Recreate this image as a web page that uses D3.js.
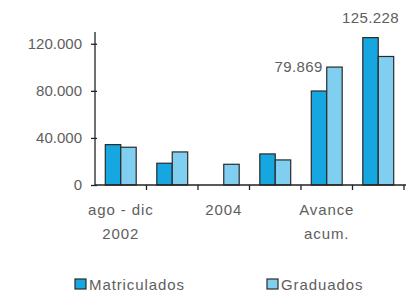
<!DOCTYPE html>
<html>
<head>
<meta charset="utf-8">
<script src="https://cdn.jsdelivr.net/npm/d3@7"></script>
<style>
  body { margin: 0; background: #fff; }
  text { font-family: "Liberation Sans", Arial, sans-serif; fill: #5e5e5e; }
</style>
</head>
<body>
<div id="chart"></div>
<script>
// Data
const categories = ["ago - dic 2002", "2003", "2004", "2005", "Avance acum.", "Total"];
const shownTicks = ["ago - dic 2002", "2004", "Avance acum."];
const matriculados = [34300, 18500, 0, 26400, 79869, 125228];
const graduados = [32100, 28100, 17600, 21300, 100200, 109200];
const series = ["Matriculados", "Graduados"];
const labelled = [4, 5]; // índices con etiqueta de valor
const yTicks = [0, 40000, 80000, 120000];

const colors = { Matriculados: "#16a7e0", Graduados: "#80cff1" };

// Dimensions
let dimensions = { width: 406, height: 293 };
const x0 = 95, x1 = 404, yBase = 185;

const locale = d3.formatLocale({ decimal: ",", thousands: ".", grouping: [3], currency: ["$", ""] });
const fmt = locale.format(",.0f");

const svg = d3.select("#chart").append("svg")
  .attr("width", dimensions.width)
  .attr("height", dimensions.height);

// Scales
const xScale = d3.scaleBand().domain(categories).range([x0, x1]).paddingInner(0.4).paddingOuter(0.2);
const xSub = d3.scaleBand().domain(series).range([0, xScale.bandwidth()]);
const yScale = d3.scaleLinear().domain([0, 130000]).range([yBase, 32]);

// Bars
const rows = categories.map((c, i) => ({ cat: c, i, Matriculados: matriculados[i], Graduados: graduados[i] }));
const groups = svg.append("g").selectAll("g").data(rows).join("g")
  .attr("transform", d => `translate(${xScale(d.cat)},0)`);

groups.selectAll("rect")
  .data(d => series.map(s => ({ s, v: d[s] })).filter(e => e.v > 0))
  .join("rect")
  .attr("x", e => xSub(e.s))
  .attr("y", e => yScale(e.v))
  .attr("width", xSub.bandwidth())
  .attr("height", e => yBase - yScale(e.v))
  .attr("fill", e => colors[e.s])
  .attr("stroke", "#2a2a2a")
  .attr("stroke-width", 1.2);

// Y axis
const leftAxis = d3.axisLeft(yScale).tickValues(yTicks).tickSize(4).tickPadding(9)
  .tickFormat(d => fmt(d));
const yAxisGroup = svg.append("g").attr("transform", `translate(${x0},0)`).call(leftAxis);
yAxisGroup.select(".domain").attr("d", `M0,${yScale(130000)}V${yBase}`).attr("stroke", "#222").attr("stroke-width", 1.3);
yAxisGroup.selectAll(".tick line").attr("x1", -4).attr("x2", 2).attr("stroke", "#222").attr("stroke-width", 1.3);
yAxisGroup.selectAll(".tick text").style("font-size", "15px").attr("fill", "#5e5e5e");

// X axis
const step = xScale.step();
const bounds = categories.map(c => xScale(c) - (step - xScale.bandwidth()) / 2).concat([x1]);
svg.append("line").attr("x1", x0).attr("x2", x1 + 2).attr("y1", yBase).attr("y2", yBase)
  .attr("stroke", "#222").attr("stroke-width", 1.3);
svg.append("g").selectAll("line").data(bounds.slice(1)).join("line")
  .attr("x1", d => d).attr("x2", d => d).attr("y1", yBase).attr("y2", yBase + 5)
  .attr("stroke", "#222").attr("stroke-width", 1.3);

const xLabels = svg.append("g").selectAll("text").data(shownTicks).join("text")
  .attr("x", d => xScale(d) + xScale.bandwidth() / 2)
  .attr("y", 215)
  .attr("text-anchor", "middle")
  .style("font-size", "15px")
  .style("letter-spacing", "0.9px");
xLabels.each(function (d) {
  const parts = d === "ago - dic 2002" ? ["ago - dic", "2002"] : d === "Avance acum." ? ["Avance", "acum."] : [d];
  d3.select(this).selectAll("tspan").data(parts).join("tspan")
    .attr("x", xScale(d) + xScale.bandwidth() / 2)
    .attr("dy", (p, j) => (j === 0 ? 0 : 24))
    .text(p => p);
});

// Value labels
svg.append("g").selectAll("text").data(labelled).join("text")
  .attr("x", i => i === 5
    ? xScale(categories[i]) + xSub("Matriculados") + xSub.bandwidth() / 2
    : xScale(categories[i]) + xSub.bandwidth() - 4)
  .attr("y", i => yScale(matriculados[i]) - (i === 5 ? 15 : 19))
  .attr("text-anchor", i => (i === 5 ? "middle" : "end"))
  .style("font-size", "15px")
  .style("letter-spacing", "0.4px")
  .text(i => fmt(matriculados[i]));

// Legend
const legend = svg.append("g").selectAll("g").data(series).join("g")
  .attr("transform", (d, i) => `translate(${i === 0 ? 75 : 267},279)`);
legend.append("rect").attr("width", 11).attr("height", 10)
  .attr("fill", d => colors[d]).attr("stroke", "#2a2a2a").attr("stroke-width", 1.2);
legend.append("text").attr("x", 14).attr("y", 10.5).style("font-size", "15px")
  .style("letter-spacing", "0.9px").text(d => d);
</script>
</body>
</html>
